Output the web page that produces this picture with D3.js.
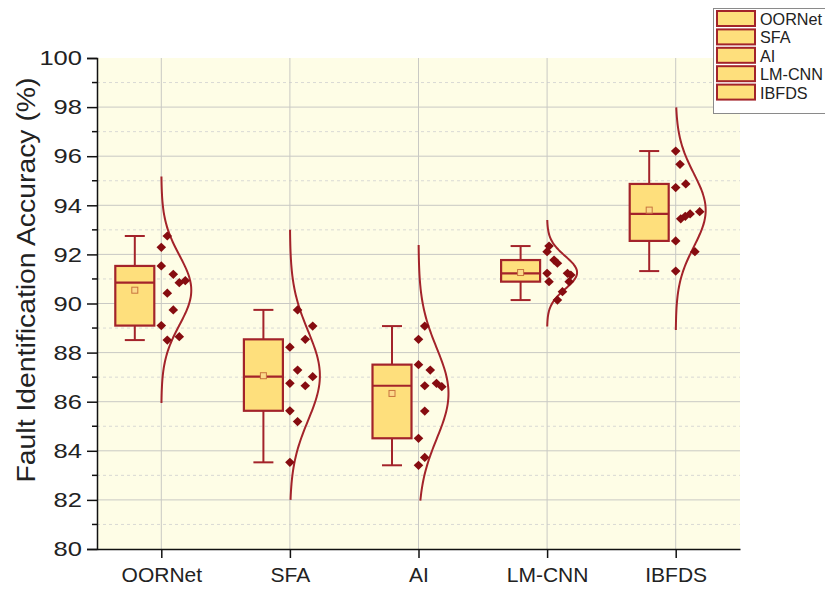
<!DOCTYPE html>
<html lang="en">
<head>
<meta charset="UTF-8">
<title>Fault Identification Accuracy</title>
<script src="https://d3js.org/d3.v7.min.js"></script>
<style>
    body{ margin: 0; padding: 0; background: #ffffff; }
    svg{ font-family: "Liberation Sans", Arial, sans-serif; }
</style>
</head>
<body>
<svg id="canvas" width="825" height="590"></svg>
<script>

// categories on the x axis
const categories = ["OORNet", "SFA", "AI", "LM-CNN", "IBFDS"]

// accuracy values, one array per method
const oornetValues = [92.75, 92.29, 91.53, 91.19, 90.85, 90.93, 90.42, 89.74, 89.10, 88.51, 88.65]
const sfaValues    = [89.74, 89.08, 88.54, 88.22, 87.29, 87.02, 86.75, 86.65, 85.63, 85.19, 83.53]
const aiValues     = [89.08, 88.54, 87.51, 87.29, 86.65, 86.75, 86.61, 85.62, 84.51, 83.73, 83.41]
const lmcnnValues  = [92.34, 92.11, 91.77, 91.64, 91.23, 91.23, 91.16, 90.89, 90.89, 90.48, 90.14]
const ibfdsValues  = [96.21, 95.67, 94.87, 94.72, 93.65, 93.55, 93.45, 93.74, 92.55, 92.11, 91.32]

// jitter of each point inside the scatter strip (0 = on the category line, 1 = far side)
const oornetJitter = [0.25, 0, 0, 0.5, 0.75, 1, 0.25, 0.5, 0, 0.25, 0.75]
const sfaJitter    = [0.32, 0.95, 0.64, 0, 0.32, 0.95, 0, 0.64, 0, 0.32, 0]
const aiJitter     = [0.26, 0, 0, 0.49, 0.26, 0.75, 0.97, 0.26, 0, 0.26, 0]
const lmcnnJitter  = [0.08, 0, 0.29, 0.43, 0, 0.85, 0.99, 0.08, 0.92, 0.64, 0.43]
const ibfdsJitter  = [0, 0.18, 0.42, 0, 0.6, 0.4, 0.21, 1, 0, 0.8, 0]

// extent of the normal curve drawn next to each box
const curveLow  = [85.95, 82.0, 81.97, 89.06, 88.92]
const curveHigh = [95.17, 93.0, 92.38, 93.4, 97.99]

// y ticks
const majorTicks = [80, 82, 84, 86, 88, 90, 92, 94, 96, 98, 100]
const minorTicks = [81, 83, 85, 87, 89, 91, 93, 95, 97, 99]

const allValues = [oornetValues, sfaValues, aiValues, lmcnnValues, ibfdsValues]
const allJitter = [oornetJitter, sfaJitter, aiJitter, lmcnnJitter, ibfdsJitter]

const series = categories.map((name, i) => ({
    name: name,
    values: allValues[i],
    jitter: allJitter[i],
    low: curveLow[i],
    high: curveHigh[i]
}))

const boxFill = "#fedf7c"
const darkRed = "#a3232a"
const dotColor = "#860c10"

const plotLeft = 97, plotRight = 740, plotTop = 58, plotBottom = 549

const canvas = d3.select("#canvas")

const x = d3.scalePoint().domain(categories).range([plotLeft, plotRight]).padding(0.5)
const y = d3.scaleLinear().domain([80, 100]).range([plotBottom, plotTop])
const jitterScale = d3.scaleLinear().domain([0, 1]).range([0, 24])
const curveWidth = d3.scaleLinear().domain([0, 1]).range([0, 30])

// Origin style percentile: position (n+1)p
let quantile = (sorted, p) => {
    let pos = (sorted.length + 1) * p - 1
    let lo = Math.floor(pos), hi = Math.ceil(pos)
    return sorted[lo] + (sorted[hi] - sorted[lo]) * (pos - lo)
}

// plot background
canvas.append("rect")
    .attr("x", plotLeft).attr("y", plotTop)
    .attr("width", plotRight - plotLeft).attr("height", plotBottom - plotTop)
    .attr("fill", "#fefde6")

// grid lines
canvas.append("g").selectAll("line")
    .data(minorTicks).enter().append("line")
    .attr("x1", plotLeft).attr("x2", plotRight)
    .attr("y1", d => y(d)).attr("y2", d => y(d))
    .attr("stroke", "#d9d9d4").attr("stroke-dasharray", "3,3")

canvas.append("g").selectAll("line")
    .data(majorTicks.filter(d => d > 80 && d < 100)).enter().append("line")
    .attr("x1", plotLeft).attr("x2", plotRight)
    .attr("y1", d => y(d)).attr("y2", d => y(d))
    .attr("stroke", "#c9c9c4")

canvas.append("g").selectAll("line")
    .data(categories).enter().append("line")
    .attr("x1", d => x(d)).attr("x2", d => x(d))
    .attr("y1", plotTop).attr("y2", plotBottom)
    .attr("stroke", "#c9c9c4")

// one group per method
let groups = canvas.selectAll("g.series")
    .data(series).enter().append("g")
    .classed("series", true)

// normal distribution curve
groups.each(function(s){
    let g = d3.select(this)
    let cx = x(s.name)
    let mean = d3.mean(s.values)
    let sd = d3.deviation(s.values)
    let pts = d3.range(0, 101).map(k => {
        let v = s.low + (s.high - s.low) * k / 100
        let r = Math.exp(-0.5 * Math.pow((v - mean) / sd, 2))
        return [cx + curveWidth(r), y(v)]
    })
    g.append("path")
        .attr("d", d3.line().curve(d3.curveBasis)(pts))
        .attr("fill", "none")
        .attr("stroke", darkRed)
        .attr("stroke-width", 2)
})

// box and whiskers
groups.each(function(s){
    let g = d3.select(this)
    let sorted = s.values.slice().sort(d3.ascending)
    let q1 = quantile(sorted, 0.25)
    let med = quantile(sorted, 0.5)
    let q3 = quantile(sorted, 0.75)
    let lo = d3.min(sorted), hi = d3.max(sorted)
    let mean = d3.mean(sorted)
    let bx0 = x(s.name) - 46, bx1 = x(s.name) - 7
    let bc = (bx0 + bx1) / 2

    g.append("line").attr("x1", bc).attr("x2", bc).attr("y1", y(hi)).attr("y2", y(q3))
        .attr("stroke", darkRed).attr("stroke-width", 2)
    g.append("line").attr("x1", bc).attr("x2", bc).attr("y1", y(q1)).attr("y2", y(lo))
        .attr("stroke", darkRed).attr("stroke-width", 2)
    g.append("line").attr("x1", bc - 10).attr("x2", bc + 10).attr("y1", y(hi)).attr("y2", y(hi))
        .attr("stroke", darkRed).attr("stroke-width", 2)
    g.append("line").attr("x1", bc - 10).attr("x2", bc + 10).attr("y1", y(lo)).attr("y2", y(lo))
        .attr("stroke", darkRed).attr("stroke-width", 2)

    g.append("rect")
        .attr("x", bx0).attr("y", y(q3))
        .attr("width", bx1 - bx0).attr("height", y(q1) - y(q3))
        .attr("fill", boxFill).attr("stroke", darkRed).attr("stroke-width", 2.2)
    g.append("line").attr("x1", bx0).attr("x2", bx1).attr("y1", y(med)).attr("y2", y(med))
        .attr("stroke", darkRed).attr("stroke-width", 2.2)

    // mean marker
    g.append("rect")
        .attr("x", bc - 3).attr("y", y(mean) - 3)
        .attr("width", 6).attr("height", 6)
        .attr("fill", "#fbd98a").attr("stroke", "#c8743e").attr("stroke-width", 1)
})

// data points as diamonds
groups.each(function(s){
    let g = d3.select(this)
    g.selectAll("path.dot")
        .data(s.values).enter().append("path")
        .classed("dot", true)
        .attr("d", "M0,-4.6L4.8,0L0,4.6L-4.8,0Z")
        .attr("transform", (v, i) => "translate(" + (x(s.name) + jitterScale(s.jitter[i])) + "," + y(v) + ")")
        .attr("fill", dotColor)
})

// y axis
let yAxis = canvas.append("g")
    .attr("transform", "translate(" + plotLeft + ",0)")
    .call(d3.axisLeft(y).tickValues(majorTicks).tickSize(10).tickPadding(5).tickFormat(d3.format("d")))
yAxis.select(".domain").attr("stroke", "#111").attr("stroke-width", 1.5)
yAxis.selectAll(".tick line").attr("stroke", "#111").attr("stroke-width", 1.5)
yAxis.selectAll("text").attr("font-size", 21).attr("fill", "#222")
    .attr("font-family", "'Liberation Sans', Arial, sans-serif")
    .attr("textLength", d => String(d).length * 14.2)
    .attr("lengthAdjust", "spacingAndGlyphs")

canvas.append("g").selectAll("line")
    .data(minorTicks).enter().append("line")
    .attr("x1", plotLeft - 5).attr("x2", plotLeft)
    .attr("y1", d => y(d)).attr("y2", d => y(d))
    .attr("stroke", "#111").attr("stroke-width", 1.5)

// x axis
let xAxis = canvas.append("g")
    .attr("transform", "translate(0," + plotBottom + ")")
    .call(d3.axisBottom(x).tickSize(9).tickSizeOuter(0).tickPadding(9))
xAxis.select(".domain").attr("stroke", "#111").attr("stroke-width", 1.5)
xAxis.selectAll(".tick line").attr("stroke", "#111").attr("stroke-width", 1.5)
xAxis.selectAll("text").attr("font-size", 21).attr("fill", "#222")
    .attr("font-family", "'Liberation Sans', Arial, sans-serif")

// y axis title
canvas.append("text")
    .attr("transform", "translate(35,280) rotate(-90)")
    .attr("text-anchor", "middle")
    .attr("font-size", 25)
    .attr("fill", "#222")
    .attr("textLength", 405)
    .attr("lengthAdjust", "spacingAndGlyphs")
    .text("Fault Identification Accuracy (%)")

// legend
let legend = canvas.append("g").attr("transform", "translate(713,8)")
legend.append("rect")
    .attr("x", 0.5).attr("y", 0.5).attr("width", 130).attr("height", 105)
    .attr("fill", "#ffffff").attr("stroke", "#8a8a8a")

let items = legend.selectAll("g.item")
    .data(categories).enter().append("g")
    .classed("item", true)
    .attr("transform", (d, i) => "translate(0," + (i * 18.4) + ")")
items.append("rect")
    .attr("x", 4).attr("y", 3).attr("width", 38).attr("height", 15)
    .attr("fill", boxFill).attr("stroke", darkRed).attr("stroke-width", 2)
items.append("text")
    .attr("x", 47).attr("y", 17)
    .attr("font-size", 16.2).attr("fill", "#222")
    .text(d => d)

</script>
</body>
</html>
